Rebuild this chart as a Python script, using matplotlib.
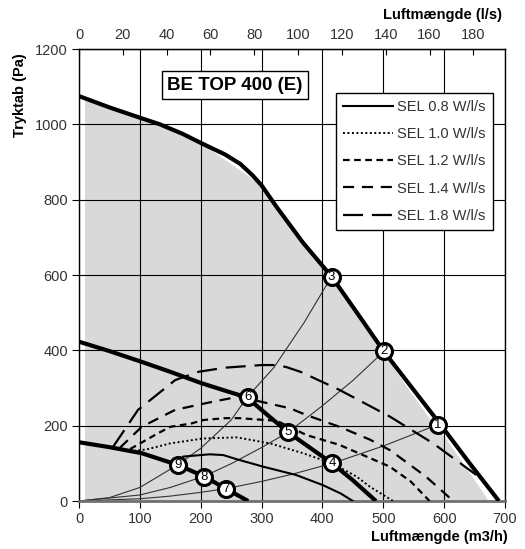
import matplotlib; matplotlib.use("Agg")
import matplotlib.pyplot as plt

plt.rcParams['font.family'] = ['Liberation Sans', 'DejaVu Sans']

# --- fan curves: airflow (m3/h) vs pressure (Pa) ---
max_q = [0, 50, 103, 133, 170, 201, 240, 265, 285, 300, 325, 368, 415, 458, 501, 547, 593, 641, 690]
max_p = [1075, 1045, 1016, 1000, 975, 950, 920, 895, 865, 838, 780, 686, 596, 497, 397, 301, 205, 102, 0]
mid_q = [0, 50, 102, 150, 201, 240, 276, 310, 344, 380, 416, 450, 488]
mid_p = [423, 398, 370, 343, 313, 293, 275, 228, 182, 141, 100, 55, 0]
low_q = [0, 50, 103, 162, 206, 242, 278]
low_p = [156, 143, 127, 96, 65, 32, 0]

# grey operating area (right border sits a bit inside the max curve)
area_q = [10, 10, 103, 201, 300, 368, 415, 458, 501, 540, 585, 601, 669, 672]
area_p = [0, 1068, 1016, 950, 838, 686, 596, 497, 392, 300, 200, 171, 11, 0]

# system curves (thin lines from origin)
sys_a_q = [0, 50, 100, 162, 200, 250, 276, 320, 370, 415]
sys_a_p = [0, 9, 36, 96, 140, 215, 275, 354, 474, 596]
sys_b_q = [0, 100, 150, 206, 250, 300, 344, 400, 450, 501]
sys_b_p = [0, 16, 36, 66, 99, 142, 183, 253, 320, 397]
sys_c_q = [0, 100, 150, 200, 242, 300, 350, 416, 500, 593]
sys_c_p = [0, 6, 13, 23, 33, 52, 71, 100, 146, 205]

# SEL iso-lines
sel08_q = [165, 171, 215, 237, 259, 303, 357, 401, 430, 450]
sel08_p = [108, 118, 124, 122, 111, 91, 69, 42, 20, 0]
sel10_q = [90, 111, 150, 204, 259, 314, 368, 416, 456, 478, 516]
sel10_p = [133, 137, 153, 166, 169, 153, 127, 100, 65, 38, 0]
sel12_q = [84, 130, 150, 185, 204, 240, 264, 289, 325, 374, 428, 511, 545, 576]
sel12_p = [138, 180, 197, 206, 215, 220, 220, 217, 213, 175, 149, 91, 52, 0]
sel14_q = [67, 103, 158, 212, 262, 298, 347, 374, 428, 478, 511, 570, 615]
sel14_p = [141, 197, 242, 261, 277, 264, 246, 228, 197, 163, 135, 65, 0]
sel18_q = [56, 97, 158, 196, 240, 300, 319, 340, 364, 428, 511, 582, 653]
sel18_p = [144, 242, 321, 343, 354, 361, 361, 356, 343, 295, 224, 153, 69]
sel_labels = ['SEL 0.8 W/l/s', 'SEL 1.0 W/l/s', 'SEL 1.2 W/l/s', 'SEL 1.4 W/l/s', 'SEL 1.8 W/l/s']

# numbered operating points
pt_no = [1, 2, 3, 4, 5, 6, 7, 8, 9]
pt_q = [590, 501, 415, 416, 344, 277, 242, 206, 162]
pt_p = [203, 397, 596, 100, 182, 275, 32, 65, 96]

fig = plt.figure(figsize=(5.25, 5.49), dpi=100)
ax = fig.add_axes([0.1505, 0.0874, 0.8114, 0.8233])

ax.fill(area_q, area_p, color='#d9d9d9', lw=0, zorder=0.5)
for q, p in [(sys_a_q, sys_a_p), (sys_b_q, sys_b_p), (sys_c_q, sys_c_p)]:
    ax.plot(q, p, color='#333333', lw=0.8, zorder=2)

ax.plot(sel08_q, sel08_p, color='black', lw=1.5, ls='-', label=sel_labels[0], zorder=3)
ax.plot(sel10_q, sel10_p, color='black', lw=1.4, ls=(0, (1, 1.3)), label=sel_labels[1], zorder=3)
ax.plot(sel12_q, sel12_p, color='black', lw=1.6, ls=(0, (3, 2)), label=sel_labels[2], zorder=3)
ax.plot(sel14_q, sel14_p, color='black', lw=1.6, ls=(0, (5, 3.5)), label=sel_labels[3], zorder=3)
ax.plot(sel18_q, sel18_p, color='black', lw=1.6, ls=(0, (9, 4)), label=sel_labels[4], zorder=3)

for q, p in [(max_q, max_p), (mid_q, mid_p), (low_q, low_p)]:
    ax.plot(q, p, color='black', lw=3.0, solid_capstyle='butt', solid_joinstyle='round', zorder=4)

ax.plot(pt_q, pt_p, 'o', ms=11.5, mfc='white', mec='black', mew=2.2, zorder=5)
for n, q, p in zip(pt_no, pt_q, pt_p):
    ax.text(q, p, str(n), ha='center', va='center', fontsize=9.5, zorder=6)

ax.set_xlim(0, 700); ax.set_ylim(0, 1200)
ax.set_xticks(range(0, 701, 100)); ax.set_yticks(range(0, 1201, 200))
ax.grid(color='black', lw=0.8)
ax.tick_params(labelsize=10.5, labelcolor='#333333', length=5, pad=3)
for s in ax.spines.values():
    s.set_color('black'); s.set_linewidth(1)
ax.spines['bottom'].set_color('#707070'); ax.spines['bottom'].set_linewidth(2)

top = ax.secondary_xaxis('top', functions=(lambda q: q / 3.6, lambda l: l * 3.6))
top.set_xticks(range(0, 181, 20))
top.tick_params(direction='in', length=4, labelsize=10.5, labelcolor='#333333', pad=5)

ax.text(0.366, 0.920, 'BE TOP 400 (E)', transform=ax.transAxes, ha='center', va='center',
        fontsize=13.5, fontweight='bold', zorder=7,
        bbox=dict(boxstyle='square,pad=0.3', fc='white', ec='black', lw=1))

leg = ax.legend(loc='upper right', bbox_to_anchor=(0.972, 0.903), borderaxespad=0,
                fontsize=10.5, handlelength=3.4, labelspacing=0.9, fancybox=False,
                framealpha=1, edgecolor='black', borderpad=0.5, handletextpad=0.3)
leg.get_frame().set_linewidth(1)
for t in leg.get_texts():
    t.set_color('#333333')

fig.text(0.038, 0.827, 'Tryktab (Pa)', rotation=90, ha='center', va='center',
         fontsize=10.5, fontweight='bold')
fig.text(0.968, 0.022, 'Luftmængde (m3/h)', ha='right', va='center', fontsize=10.5, fontweight='bold')
fig.text(0.956, 0.973, 'Luftmængde (l/s)', ha='right', va='center', fontsize=10.5, fontweight='bold')

fig.savefig('out.png', dpi=100)
